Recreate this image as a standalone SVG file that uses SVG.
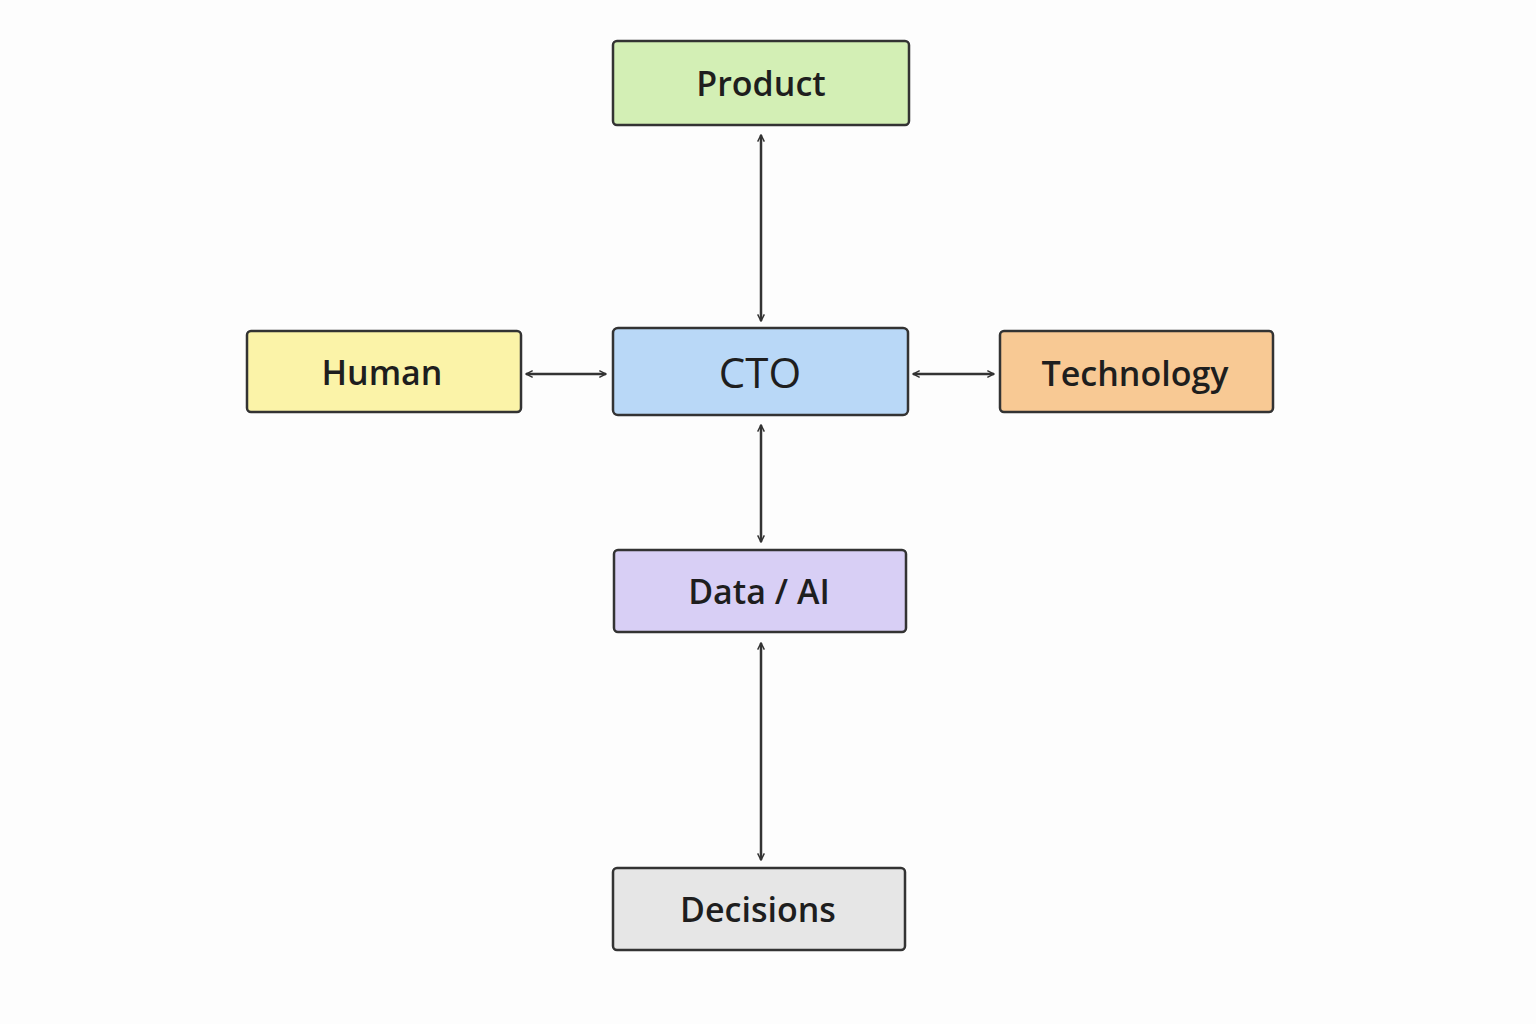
<svg xmlns="http://www.w3.org/2000/svg" width="1536" height="1024" viewBox="0 0 1536 1024">
<style>
.box{stroke:#333;stroke-width:2.5}
.t{font-family:"Open Sans","Liberation Sans",sans-serif;font-weight:600;font-size:34px;fill:#1e1e1e;text-anchor:middle;dominant-baseline:central}
.c{stroke:#333;stroke-width:2.5;fill:none;marker-start:url(#a);marker-end:url(#a)}
</style>
<defs>
<marker id="a" viewBox="0 0 12 12" refX="11" refY="6" markerWidth="8" markerHeight="8" orient="auto-start-reverse" markerUnits="userSpaceOnUse">
<path d="M1,1 L11,6 L1,11" fill="none" stroke="#333" stroke-width="2.2"/>
</marker>
</defs>
<rect width="1536" height="1024" fill="#fdfdfd"/>
<g id="connectors">
<line class="c" x1="761" y1="135" x2="761" y2="321"/>
<line class="c" x1="761" y1="425" x2="761" y2="542"/>
<line class="c" x1="761" y1="643" x2="761" y2="860"/>
<line class="c" x1="526" y1="374" x2="606" y2="374"/>
<line class="c" x1="913" y1="374" x2="994" y2="374"/>
</g>
<g id="product"><rect class="box" x="613" y="41" width="296" height="84" rx="4" fill="#d3efb5"/><text class="t" x="761" y="83">Product</text></g>
<g id="human"><rect class="box" x="247" y="331" width="274" height="81" rx="4" fill="#fbf3a8"/><text class="t" x="382" y="372">Human</text></g>
<g id="cto"><rect class="box" x="613" y="328" width="295" height="87" rx="5" fill="#b9d8f7"/><text class="t" x="760" y="371" style="font-size:42px;font-weight:500">CTO</text></g>
<g id="technology"><rect class="box" x="1000" y="331" width="273" height="81" rx="4" fill="#f8c994"/><text class="t" x="1135" y="373">Technology</text></g>
<g id="data-ai"><rect class="box" x="614" y="550" width="292" height="82" rx="4" fill="#d8cff5"/><text class="t" x="759" y="591">Data / AI</text></g>
<g id="decisions"><rect class="box" x="613" y="868" width="292" height="82" rx="4" fill="#e6e6e6"/><text class="t" x="758" y="909">Decisions</text></g>
</svg>
